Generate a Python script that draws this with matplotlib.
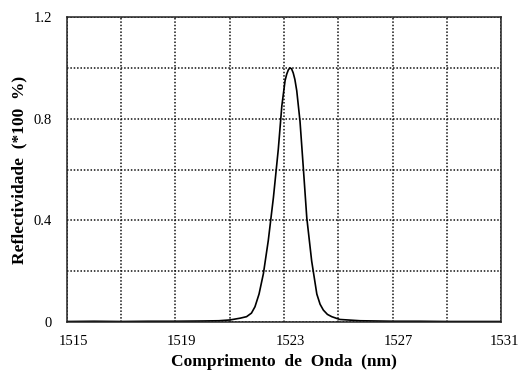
import matplotlib.pyplot as plt
import matplotlib.transforms as mtransforms

# Reflection spectrum
wavelength = [1515.0, 1516.0, 1517.0, 1518.0, 1519.0, 1520.0, 1520.6, 1521.0, 1521.38, 1521.62,
              1521.8, 1521.93, 1522.08, 1522.24, 1522.42, 1522.61, 1522.79, 1522.92, 1523.04,
              1523.10, 1523.16, 1523.22, 1523.28, 1523.34, 1523.40, 1523.47, 1523.59, 1523.71,
              1523.84, 1524.02, 1524.21, 1524.33, 1524.45, 1524.6, 1524.76, 1525.06, 1525.8,
              1527.0, 1528.0, 1529.0, 1530.0, 1531.0]
reflect = [0.002, 0.003, 0.002, 0.003, 0.003, 0.004, 0.005, 0.008, 0.015, 0.021,
           0.035, 0.06, 0.11, 0.19, 0.32, 0.49, 0.68, 0.85, 0.95,
           0.975, 0.992, 1.0, 0.996, 0.98, 0.955, 0.91, 0.79, 0.61,
           0.41, 0.24, 0.11, 0.07, 0.047, 0.03, 0.021, 0.010, 0.005,
           0.003, 0.003, 0.002, 0.002, 0.002]

x_ticks = [1515, 1519, 1523, 1527, 1531]
y_ticks = [0, 0.4, 0.8, 1.2]

plt.rcParams['font.family'] = ['Liberation Serif', 'DejaVu Serif']

fig = plt.figure(figsize=(5.2, 3.74), dpi=100)
ax = fig.add_axes([0.1288, 0.139, 0.8347, 0.8155])

ax.plot(wavelength, reflect, color='black', linewidth=1.2)

ax.set_xlim(1515, 1531)
ax.set_ylim(0, 1.2)

# grid every 2 nm / 0.2, labels only on every other line
ax.set_xticks(range(1515, 1532, 2), minor=True)
ax.set_yticks([0.2 * i for i in range(7)], minor=True)
ax.set_xticks(x_ticks)
ax.set_xticklabels([str(t) for t in x_ticks])
ax.set_yticks(y_ticks)
ax.set_yticklabels(['0', '0.4', '0.8', '1.2'])
ax.grid(True, which='both', linestyle=(0, (1.0, 1.2)), color='#111111', linewidth=1.1)
ax.tick_params(which='both', length=0)
ax.tick_params(axis='x', pad=9, labelsize=10.5)
ax.tick_params(axis='y', pad=11, labelsize=10.5)

# x labels sit a little right of their grid lines in the original
for i, lab in enumerate(ax.get_xticklabels()):
    dx = 3 if i == len(x_ticks) - 1 else 6
    shift = mtransforms.ScaledTranslation(dx / 100, 0, fig.dpi_scale_trans)
    lab.set_transform(lab.get_transform() + shift)

for s in ax.spines.values():
    s.set_linewidth(1.1)
    s.set_color('#222222')

ax.set_xlabel('Comprimento  de  Onda  (nm)', fontsize=12.5, fontweight='bold', labelpad=5)
ax.set_ylabel('Reflectividade  (*100  %)', fontsize=12.5, fontweight='bold', labelpad=4)

fig.savefig('out.png', dpi=100)
